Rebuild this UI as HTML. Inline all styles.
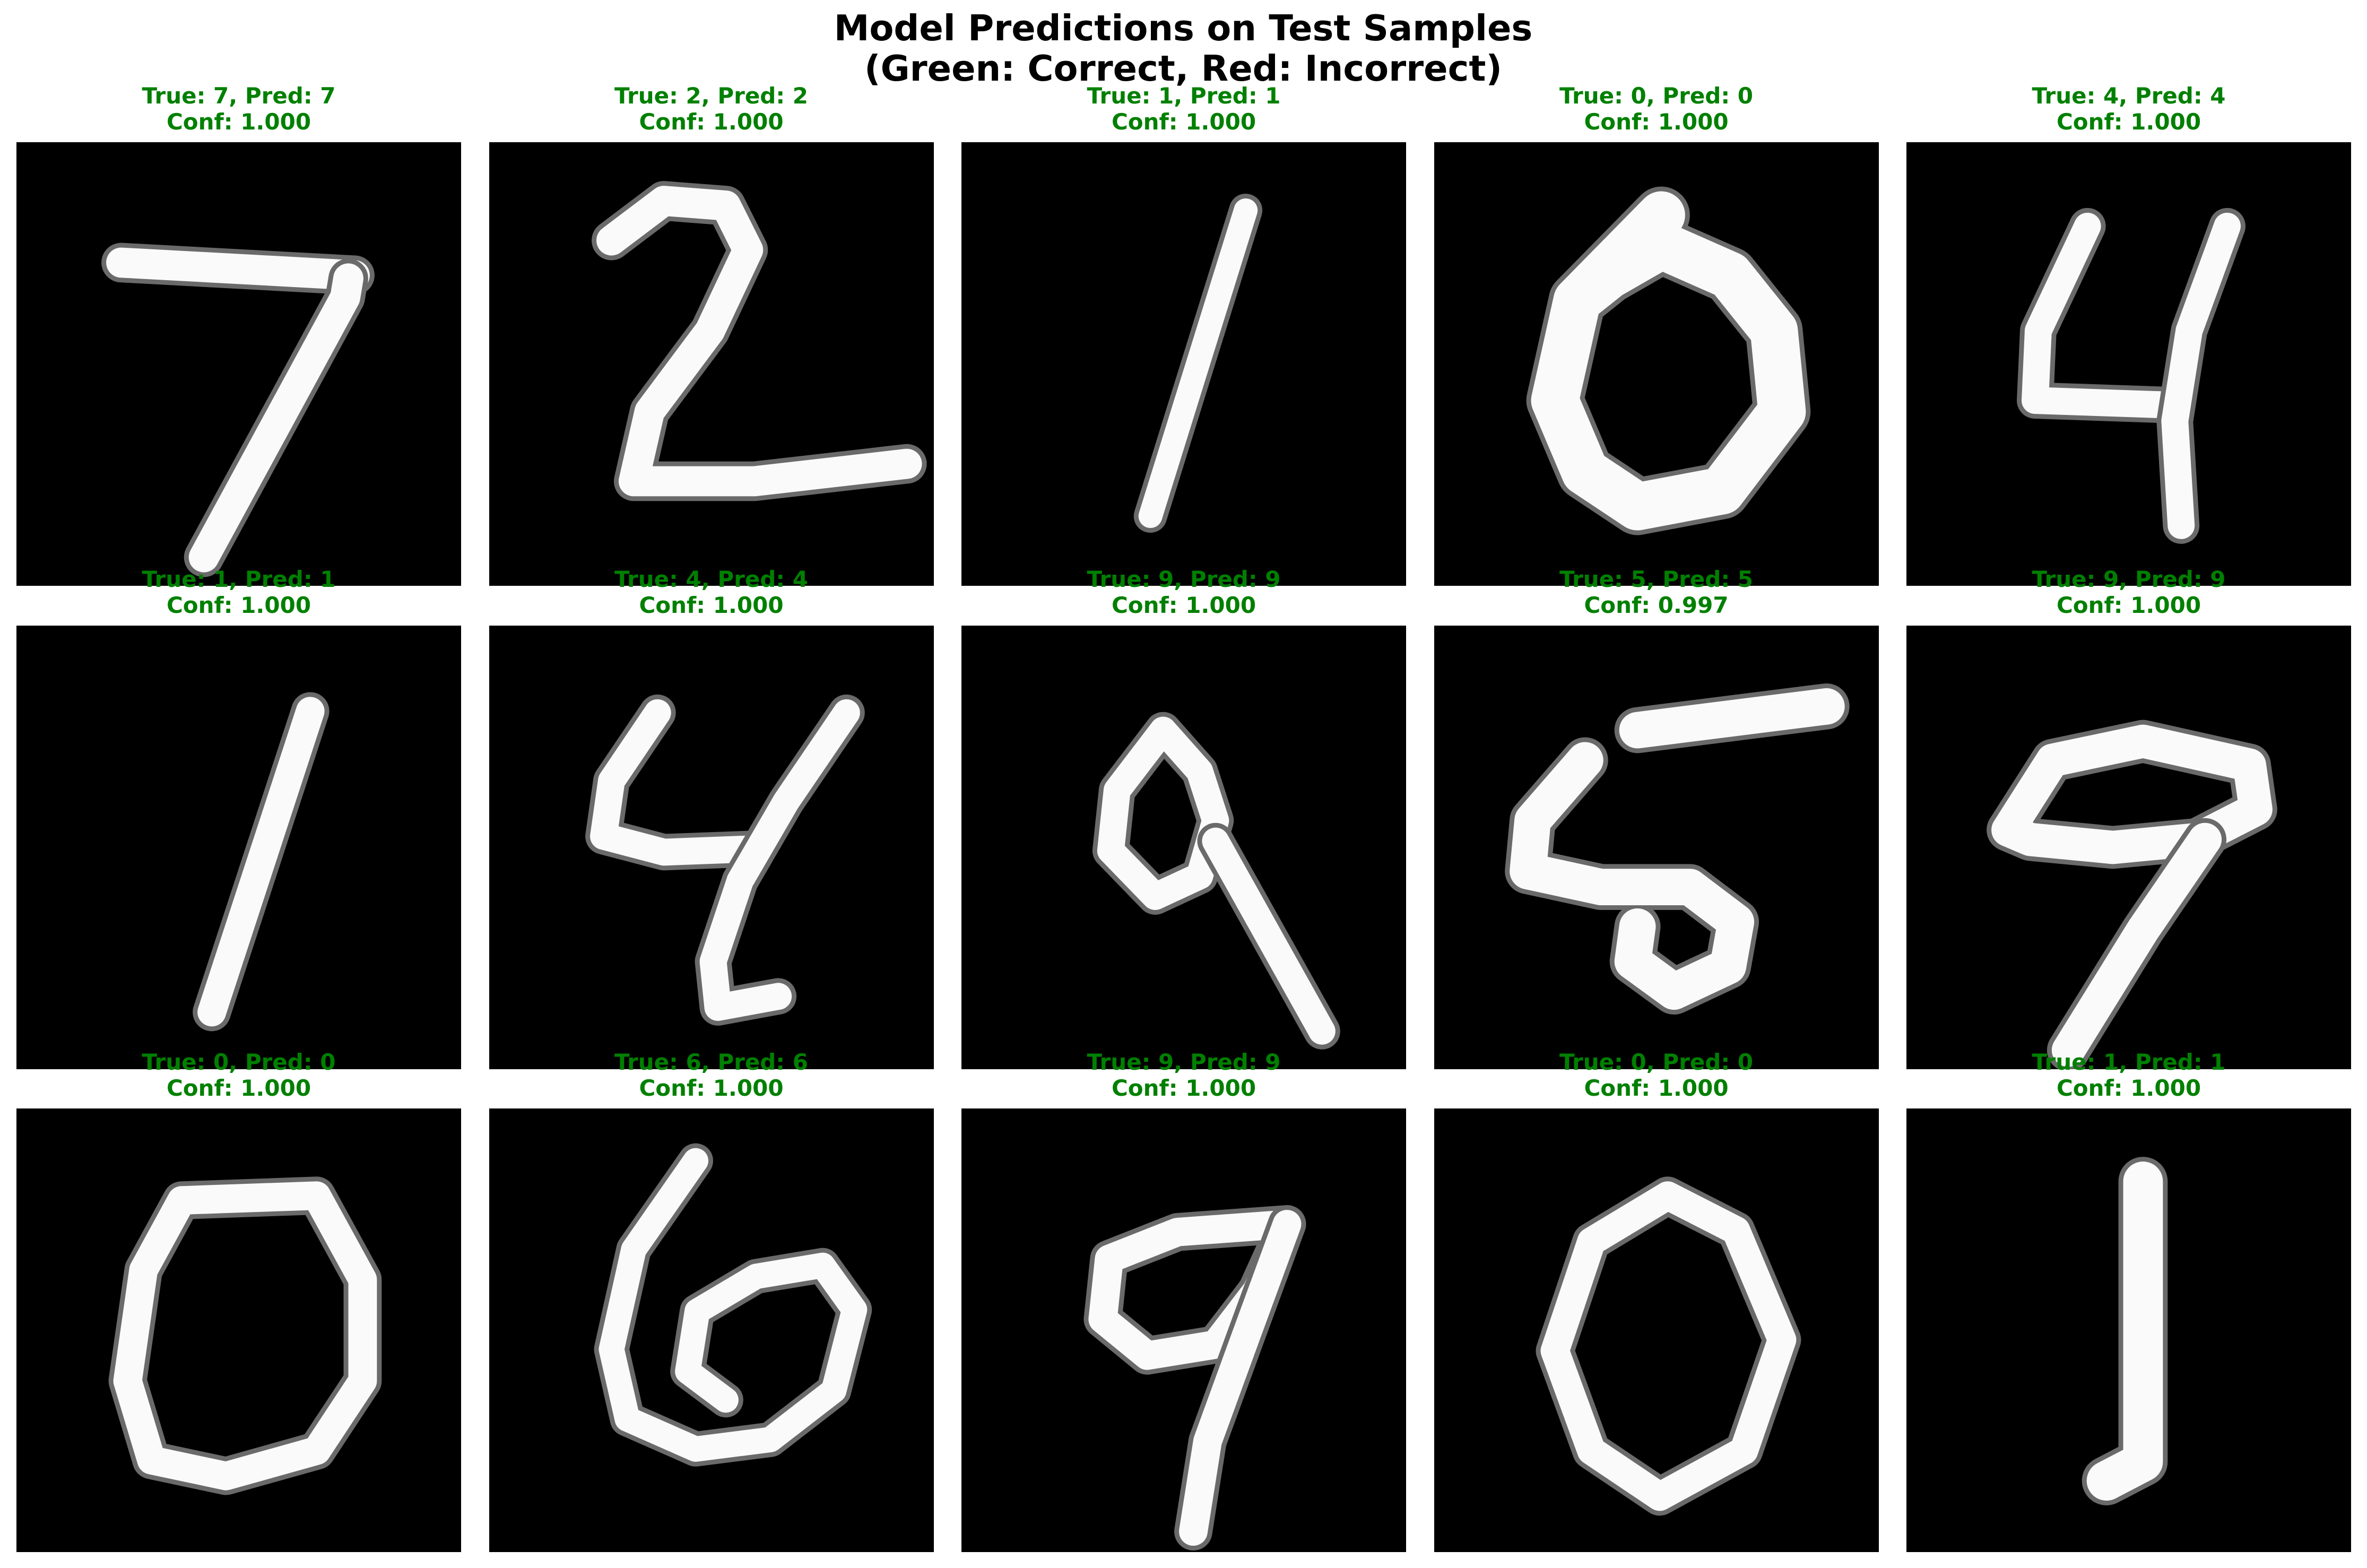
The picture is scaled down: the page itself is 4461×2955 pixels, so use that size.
<!DOCTYPE html>
<html><head><meta charset="utf-8">
<style>
html,body{margin:0;padding:0;background:#fff;}
#root{position:relative;width:4461px;height:2955px;overflow:hidden;background:#fff;font-family:"DejaVu Sans","Liberation Sans",sans-serif;}
.t{position:absolute;white-space:nowrap;transform:translateX(-50%);font-weight:bold;line-height:1;}
.panel{position:absolute;width:838px;height:836px;background:#000;}
.panel svg{display:block;width:100%;height:100%;}
</style></head>
<body>
<div id="root">
<div class="t" style="left:2230px;top:20px;font-size:67px;color:#000;">Model Predictions on Test Samples</div>
<div class="t" style="left:2230px;top:96px;font-size:67px;color:#000;">(Green: Correct, Red: Incorrect)</div>
</div>
<script>
const trueLabels = [7,2,1,0,4,1,4,9,5,9,0,6,9,0,1];
const predLabels = [7,2,1,0,4,1,4,9,5,9,0,6,9,0,1];
const confidences = ["1.000","1.000","1.000","1.000","1.000","1.000","1.000","1.000","0.997","1.000","1.000","1.000","1.000","1.000","1.000"];
const strokes = [
 [[[6.6,7.6],[21.3,8.4]],[[20.9,8.6],[20.7,9.8],[11.8,26.2]]],
 [[[7.7,6.2],[11.0,3.7],[14.9,4.0],[16.3,6.8],[13.9,11.9],[10.1,17.0],[9.1,21.4],[16.7,21.4],[26.3,20.3]]],
 [[[17.9,4.3],[11.9,23.6]]],
 [[[14.3,4.6],[9.0,10.0],[7.6,16.3],[9.5,20.8],[12.8,23.0],[18.1,22.0],[21.9,17.0],[21.4,11.9],[18.6,8.4],[14.3,6.5],[11.0,8.4],[9.0,10.0]]],
 [[[11.4,5.3],[8.3,11.9],[8.1,16.3],[16.9,16.6]],[[20.2,5.3],[17.8,11.9],[16.9,17.6],[17.3,24.2]]],
 [[[18.5,5.4],[12.3,24.4]]],
 [[[10.6,5.5],[7.7,9.8],[7.2,13.3],[11.0,14.3],[16.3,14.1]],[[22.5,5.5],[18.7,11.1],[15.8,16.1],[14.1,21.2],[14.4,24.1],[18.2,23.4]]],
 [[[12.7,6.6],[9.8,10.4],[9.4,14.2],[12.2,17.1],[15.0,15.8],[16.0,12.3],[15.0,9.2],[12.7,6.6]],[[16.0,13.6],[22.7,25.6]]],
 [[[12.8,6.6],[24.7,5.1]],[[9.5,8.5],[6.2,12.3],[5.9,15.5],[10.5,16.5],[16.1,16.5],[19.0,18.7],[18.5,21.5],[15.1,23.1],[12.5,21.2],[12.8,19.0]]],
 [[[6.4,12.9],[9.2,8.5],[14.9,7.3],[21.6,8.8],[22.0,11.6],[18.3,13.5],[13.0,14.0],[7.8,13.5],[6.4,12.9]],[[18.8,13.5],[14.9,19.2],[10.2,26.8]]],
 [[[10.4,5.8],[18.9,5.5],[21.8,10.8],[21.8,17.2],[18.9,21.6],[13.2,23.2],[8.5,22.2],[7.0,17.2],[8.0,10.2],[10.4,5.8]]],
 [[[13.0,3.3],[9.1,8.9],[7.7,15.2],[8.7,19.6],[13.0,21.5],[17.7,20.9],[21.7,17.8],[23.0,12.7],[21.0,9.9],[16.8,10.6],[13.1,12.8],[12.5,16.6],[14.9,18.4]]],
 [[[8.9,13.3],[9.3,9.5],[13.6,7.8],[20.5,7.3],[18.6,11.5],[16.0,14.9],[11.7,15.6],[8.9,13.3]],[[20.5,7.3],[17.9,14.4],[15.5,21.0],[14.6,26.7]]],
 [[[14.7,5.5],[9.9,8.4],[7.6,15.3],[9.9,21.6],[14.2,24.5],[19.5,21.6],[21.9,14.6],[19.0,7.7],[14.7,5.5]]],
 [[[14.9,4.6],[14.9,22.3],[12.6,23.5]]]
];
const widths = [1.9,1.9,1.5,3.0,1.7,1.8,1.7,1.7,2.3,2.1,1.8,1.6,1.8,1.8,2.5];
const root = document.getElementById('root');
const NS = 'http://www.w3.org/2000/svg';
for (let i = 0; i < 15; i++) {
  const r = Math.floor(i / 5), c = i % 5;
  const x = 31 + c * 890.5, y = 268 + r * 910.5;
  const ok = trueLabels[i] === predLabels[i];
  const col = ok ? '#008000' : '#ff0000';
  const t1 = document.createElement('div');
  t1.className = 't';
  
  
  t1.style.cssText = `left:${x+419}px;top:${y-108}px;font-size:42px;color:${col};`;
  t1.textContent = `True: ${trueLabels[i]}, Pred: ${predLabels[i]}`;
  const t2 = document.createElement('div');
  t2.className = 't';
  
  
  t2.style.cssText = `left:${x+419}px;top:${y-59}px;font-size:42px;color:${col};`;
  t2.textContent = `Conf: ${confidences[i]}`;
  const p = document.createElement('div');
  p.className = 'panel';
  
  
  p.style.left = x + 'px'; p.style.top = y + 'px';
  const svg = document.createElementNS(NS, 'svg');
  svg.setAttribute('viewBox', '0 0 28 28');
  svg.setAttribute('preserveAspectRatio', 'none');
  for (const s of strokes[i]) {
    const pts = s.map(q => q.join(',')).join(' ');
    const outer = document.createElementNS(NS, 'polyline');
    
    
    outer.setAttribute('points', pts);
    outer.setAttribute('fill', 'none');
    outer.setAttribute('stroke', '#6a6a6a');
    outer.setAttribute('stroke-width', widths[i] + 0.6);
    outer.setAttribute('stroke-linecap', 'round');
    outer.setAttribute('stroke-linejoin', 'round');
    svg.appendChild(outer);
    const inner = document.createElementNS(NS, 'polyline');
    
    
    inner.setAttribute('points', pts);
    inner.setAttribute('fill', 'none');
    inner.setAttribute('stroke', '#fafafa');
    inner.setAttribute('stroke-width', widths[i]);
    inner.setAttribute('stroke-linecap', 'round');
    inner.setAttribute('stroke-linejoin', 'round');
    svg.appendChild(inner);
  }
  p.appendChild(svg);
  root.appendChild(p);
  root.appendChild(t1);
  root.appendChild(t2);
}
</script>
</body></html>
